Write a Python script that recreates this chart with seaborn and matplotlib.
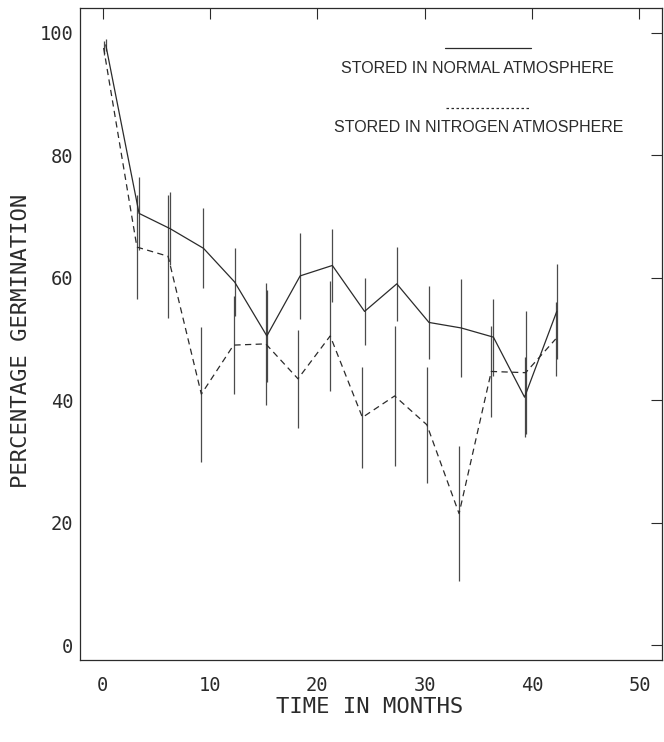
import numpy as np
import pandas as pd
import seaborn as sns
from matplotlib import pyplot as plt

# data
months_normal = [0.3, 3.4, 6.3, 9.4, 12.3, 15.3, 18.4, 21.4, 24.4, 27.4, 30.4, 33.4, 36.4, 39.3, 42.3]
months_nitrogen = [0.1, 3.2, 6.1, 9.2, 12.2, 15.2, 18.2, 21.2, 24.2, 27.2, 30.2, 33.2, 36.2, 39.4, 42.2]
germ_normal = [98.0, 70.5, 68.0, 64.8, 59.3, 50.5, 60.3, 62.0, 54.5, 59.0, 52.7, 51.8, 50.3, 40.5, 54.5]
germ_nitrogen = [97.5, 65.0, 63.5, 41.0, 49.0, 49.2, 43.5, 50.5, 37.2, 40.7, 36.0, 21.5, 44.7, 44.5, 50.0]
err_normal = [1.0, 6.0, 6.0, 6.5, 5.5, 7.5, 7.0, 6.0, 5.5, 6.0, 6.0, 8.0, 6.3, 6.5, 7.8]
err_nitrogen = [1.2, 8.5, 10.0, 11.0, 8.0, 10.0, 8.0, 9.0, 8.3, 11.5, 9.5, 11.0, 7.5, 10.0, 6.0]

xticks = [0, 10, 20, 30, 40, 50]
yticks = [0, 20, 40, 60, 80, 100]

df = pd.DataFrame({
    "month": months_normal + months_nitrogen,
    "germ": germ_normal + germ_nitrogen,
    "err": err_normal + err_nitrogen,
    "store": ["normal"] * len(months_normal) + ["nitrogen"] * len(months_nitrogen),
})

sns.set_style("white")
plt.rcParams["font.family"] = ["DejaVu Sans Mono"]

ink = "#2b2b2b"
fig = plt.figure(figsize=(6.64, 7.42), dpi=100)
ax = fig.add_axes([0.1205, 0.1105, 0.8765, 0.8785])

sns.lineplot(data=df, x="month", y="germ", style="store",
             dashes={"normal": "", "nitrogen": (5, 3.5)},
             color=ink, linewidth=0.9, legend=False, ax=ax, sort=False,
             estimator=None)

for store in ["normal", "nitrogen"]:
    d = df[df["store"] == store]
    ax.errorbar(d["month"], d["germ"], yerr=d["err"], fmt="none",
                ecolor=ink, elinewidth=0.9, capsize=0, alpha=0.85)

ax.set_xlim(-2.1, 52.1)
ax.set_ylim(-2.4, 104)
ax.set_xticks(xticks)
ax.set_yticks(yticks)
ax.set_xticklabels([str(t) for t in xticks])
ax.set_yticklabels([str(t) for t in yticks])

ax.tick_params(direction="in", length=8, width=0.8, color=ink,
               top=True, right=True, labelsize=13.5, labelcolor=ink)
ax.tick_params(axis="y", pad=5)
ax.tick_params(axis="x", pad=11.5)
for s in ax.spines.values():
    s.set_color(ink)
    s.set_linewidth(0.9)

ax.set_xlabel("TIME IN MONTHS", fontsize=16, color=ink)
ax.set_ylabel("PERCENTAGE GERMINATION", fontsize=16, color=ink)
ax.xaxis.set_label_coords(0.498, -0.056)
ax.yaxis.set_label_coords(-0.085, 0.49)

# hand drawn legend, as on the original
ax.plot([31.9, 39.9], [97.5, 97.5], color=ink, lw=0.9)
ax.text(34.9, 94.2, "STORED IN NORMAL ATMOSPHERE", ha="center", va="center",
        fontsize=11.5, family="Liberation Sans", color=ink)
ax.plot([32.0, 39.9], [87.7, 87.7], color=ink, lw=0.9, ls=(0, (2, 2)))
ax.text(35.0, 84.5, "STORED IN NITROGEN ATMOSPHERE", ha="center", va="center",
        fontsize=11.5, family="Liberation Sans", color=ink)

fig.savefig("out.png", dpi=100)
